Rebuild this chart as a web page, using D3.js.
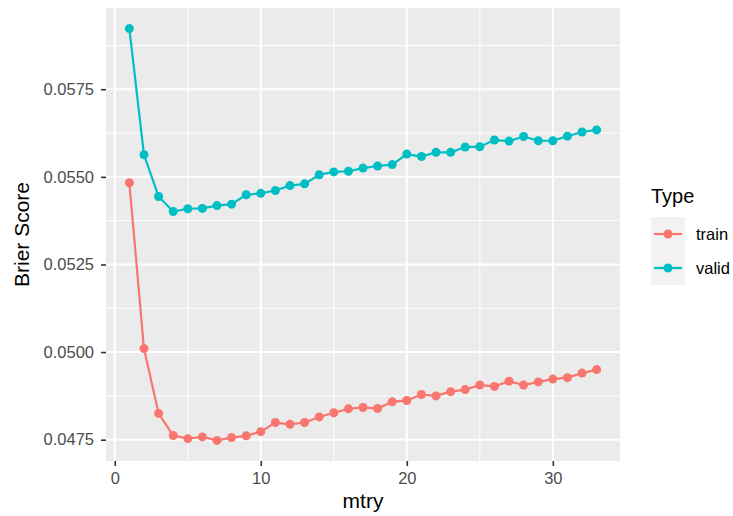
<!DOCTYPE html>
<html>
<head>
<meta charset="utf-8">
<script src="https://cdn.jsdelivr.net/npm/d3@7"></script>
<style>
  html, body { margin: 0; padding: 0; background: #ffffff; }
  svg { display: block; font-family: "Liberation Sans", Arial, Helvetica, sans-serif; }
</style>
</head>
<body>
<svg id="chart" width="733" height="516"></svg>
<script>
// Brier score by mtry for the train and validation sets
const mtry = d3.range(1, 34);
const trainScores = [
  0.05483, 0.05010, 0.04825, 0.04762, 0.04753, 0.04758, 0.04748, 0.04756, 0.04761, 0.04773,
  0.04799, 0.04794, 0.04799, 0.04815, 0.04827, 0.04838, 0.04842, 0.04839, 0.04858, 0.04862,
  0.04879, 0.04875, 0.04887, 0.04893, 0.04906, 0.04902, 0.04917, 0.04906, 0.04915, 0.04923,
  0.04927, 0.04940, 0.04950
];
const validScores = [
  0.05923, 0.05563, 0.05444, 0.05401, 0.05409, 0.05410, 0.05418, 0.05422, 0.05449, 0.05453,
  0.05461, 0.05475, 0.05480, 0.05506, 0.05514, 0.05516, 0.05525, 0.05531, 0.05535, 0.05565,
  0.05558, 0.05570, 0.05570, 0.05585, 0.05586, 0.05605, 0.05602, 0.05615, 0.05603, 0.05603,
  0.05616, 0.05628, 0.05634
];
const seriesNames = ["train", "valid"];
const seriesColors = ["#F8766D", "#00BFC4"];
const xTicks = [0, 10, 20, 30];
const xMinor = [5, 15, 25];
const yTicks = [0.0475, 0.0500, 0.0525, 0.0550, 0.0575];
const yMinor = [0.04875, 0.05125, 0.05375, 0.05625, 0.05875];

const series = [
  { name: seriesNames[0], color: seriesColors[0], values: mtry.map((m, i) => ({ x: m, y: trainScores[i] })) },
  { name: seriesNames[1], color: seriesColors[1], values: mtry.map((m, i) => ({ x: m, y: validScores[i] })) }
];

const svg = d3.select("#chart");
const panel = { left: 106, right: 620, top: 8, bottom: 461 };

// ggplot-style 5% expansion on both axes
const xExt = d3.extent(mtry);
const xPad = (xExt[1] - xExt[0]) * 0.05;
const allY = trainScores.concat(validScores);
const yExt = d3.extent(allY);
const yPad = (yExt[1] - yExt[0]) * 0.05;

const x = d3.scaleLinear().domain([xExt[0] - xPad, xExt[1] + xPad]).range([panel.left, panel.right]);
const y = d3.scaleLinear().domain([yExt[0] - yPad, yExt[1] + yPad]).range([panel.bottom, panel.top]);

// panel background
svg.append("rect")
  .attr("x", panel.left).attr("y", panel.top)
  .attr("width", panel.right - panel.left).attr("height", panel.bottom - panel.top)
  .attr("fill", "#EBEBEB");

const grid = svg.append("g");
// minor grid
grid.selectAll(".xminor").data(xMinor).join("line")
  .attr("x1", d => x(d)).attr("x2", d => x(d))
  .attr("y1", panel.top).attr("y2", panel.bottom)
  .attr("stroke", "#ffffff").attr("stroke-width", 1);
grid.selectAll(".yminor").data(yMinor).join("line")
  .attr("y1", d => y(d)).attr("y2", d => y(d))
  .attr("x1", panel.left).attr("x2", panel.right)
  .attr("stroke", "#ffffff").attr("stroke-width", 1);
// major grid
grid.selectAll(".xmajor").data(xTicks).join("line")
  .attr("x1", d => x(d)).attr("x2", d => x(d))
  .attr("y1", panel.top).attr("y2", panel.bottom)
  .attr("stroke", "#ffffff").attr("stroke-width", 2);
grid.selectAll(".ymajor").data(yTicks).join("line")
  .attr("y1", d => y(d)).attr("y2", d => y(d))
  .attr("x1", panel.left).attr("x2", panel.right)
  .attr("stroke", "#ffffff").attr("stroke-width", 2);

// axes
const xAxis = d3.axisBottom(x).tickValues(xTicks).tickSize(5).tickPadding(6).tickFormat(d3.format("d"));
const yAxis = d3.axisLeft(y).tickValues(yTicks).tickSize(5).tickPadding(7).tickFormat(d3.format(".4f"));

const gx = svg.append("g").attr("transform", `translate(0,${panel.bottom})`).call(xAxis);
const gy = svg.append("g").attr("transform", `translate(${panel.left},0)`).call(yAxis);
[gx, gy].forEach(g => {
  g.select(".domain").remove();
  g.selectAll(".tick line").attr("stroke", "#333333").attr("stroke-width", 1.6);
  g.selectAll(".tick text").attr("fill", "#4D4D4D").attr("font-size", 16.5)
    .attr("font-family", "Liberation Sans, Arial, sans-serif");
});

// axis titles
svg.append("text")
  .attr("x", (panel.left + panel.right) / 2).attr("y", 508)
  .attr("text-anchor", "middle").attr("font-size", 21).attr("fill", "#000")
  .text("mtry");
svg.append("text")
  .attr("transform", `translate(29,${(panel.top + panel.bottom) / 2}) rotate(-90)`)
  .attr("text-anchor", "middle").attr("font-size", 21).attr("fill", "#000")
  .text("Brier Score");

// lines and points
const line = d3.line().x(d => x(d.x)).y(d => y(d.y));
const layer = svg.append("g");
series.forEach(s => {
  layer.append("path").datum(s.values)
    .attr("d", line).attr("fill", "none")
    .attr("stroke", s.color).attr("stroke-width", 2.2);
  layer.selectAll(null).data(s.values).join("circle")
    .attr("cx", d => x(d.x)).attr("cy", d => y(d.y))
    .attr("r", 4.5).attr("fill", s.color);
});

// legend
const legend = svg.append("g").attr("transform", "translate(651,0)");
legend.append("text").attr("x", 0).attr("y", 203)
  .attr("font-size", 20).attr("fill", "#000").text("Type");
const keyH = 34, keyTop = 217;
series.forEach((s, i) => {
  const cy = keyTop + keyH * i + keyH / 2;
  legend.append("rect").attr("x", 0).attr("y", keyTop + keyH * i)
    .attr("width", 34).attr("height", keyH).attr("fill", "#F2F2F2");
  legend.append("line").attr("x1", 3).attr("x2", 31).attr("y1", cy).attr("y2", cy)
    .attr("stroke", s.color).attr("stroke-width", 2.2);
  legend.append("circle").attr("cx", 17).attr("cy", cy).attr("r", 4.5).attr("fill", s.color);
  legend.append("text").attr("x", 45).attr("y", cy).attr("dy", "0.35em")
    .attr("font-size", 16.5).attr("fill", "#000").text(s.name);
});
</script>
</body>
</html>
